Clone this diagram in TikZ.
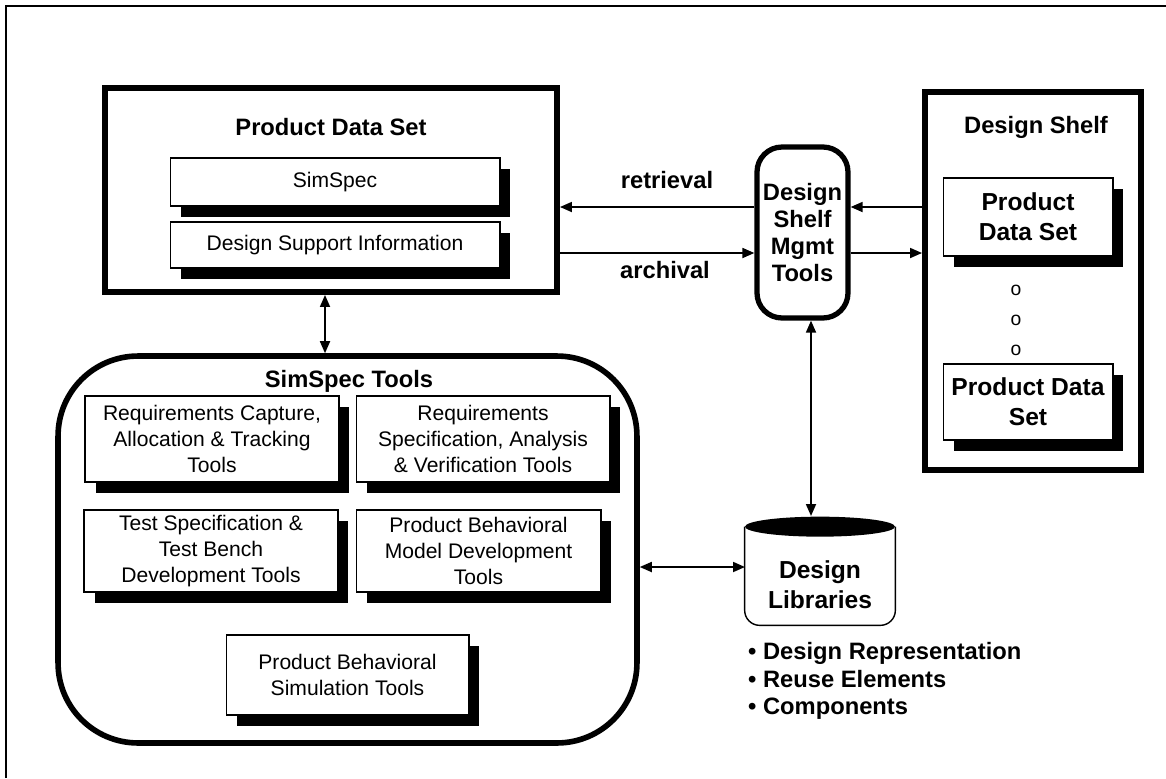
\documentclass[tikz,border=0pt]{standalone}
\usepackage{fontspec}
\setmainfont{Liberation Sans}
\usetikzlibrary{arrows.meta,shadows}

\tikzset{
  thickbox/.style={draw, line width=3.4pt},
  toolbox/.style={draw, line width=0.6pt, fill=white, align=center, inner sep=2pt,
    font=\fontsize{12}{15}\selectfont,
    drop shadow={shadow xshift=0.21cm, shadow yshift=-0.22cm, fill=black, opacity=1}},
  heading/.style={font=\bfseries\fontsize{13.5}{16}\selectfont, align=center},
  tip/.style={line width=1pt, -{Triangle[length=0.24cm,width=0.2cm]}},
  twotip/.style={line width=1pt, {Triangle[length=0.24cm,width=0.2cm]}-{Triangle[length=0.24cm,width=0.2cm]}},
}

\begin{document}
\begin{tikzpicture}[x=0.02cm, y=-0.02cm]
\useasboundingbox (0,0) rectangle (1166,778);
\draw[line width=1.7pt] (6,778) -- (6,6) -- (1166,6);

% product data set
\node[thickbox, minimum width=9.04cm, minimum height=4.08cm] (pds) at (331,190) {};
\node[heading] (pdstitle) at (331,127) {Product Data Set};
\node[toolbox, minimum width=6.6cm, minimum height=0.96cm] (simspec) at (335,182) {SimSpec};
\node[toolbox, minimum width=6.6cm, minimum height=0.92cm] (dsi) at (335,245) {Design Support Information};

% shelf management
\node[draw, line width=3pt, rounded corners=0.5cm, minimum width=1.82cm, minimum height=3.42cm,
  inner sep=0pt, heading, font=\bfseries\fontsize{13.5}{15.3}\selectfont] (mgmt) at (802.5,232.5)
  {Design\\Shelf\\Mgmt\\Tools};

% design shelf
\node[thickbox, minimum width=4.32cm, minimum height=7.56cm] (shelf) at (1033,281) {};
\node[heading] (shelftitle) at (1036,127) {Design Shelf};
\node[toolbox, minimum width=3.4cm, minimum height=1.56cm, font=\bfseries\fontsize{14}{17}\selectfont]
  (pdsa) at (1028,217) {Product\\Data Set};
\foreach \y in {290,320,350}
  \node[font=\fontsize{11}{13}\selectfont] (dot\y) at (1016,\y) {o};
\node[toolbox, minimum width=3.4cm, minimum height=1.52cm, font=\bfseries\fontsize{14}{17}\selectfont]
  (pdsb) at (1028,402) {Product Data\\Set};

% simspec tools
\node[draw, line width=3.2pt, rounded corners=1.6cm, minimum width=11.58cm, minimum height=7.74cm]
  (tools) at (347.5,549.5) {};
\node[heading] (toolstitle) at (349,381) {SimSpec Tools};
\node[toolbox, minimum width=5.08cm, minimum height=1.72cm] (reqcap) at (212,439)
  {Requirements Capture,\\Allocation \& Tracking\\Tools};
\node[toolbox, minimum width=5.08cm, minimum height=1.72cm] (reqspec) at (483,439)
  {Requirements\\Specification, Analysis\\\& Verification Tools};
\node[toolbox, minimum width=5.08cm, minimum height=1.64cm] (testspec) at (211,551)
  {Test Specification \&\\Test Bench\\Development Tools};
\node[toolbox, minimum width=4.9cm, minimum height=1.64cm] (behmodel) at (478.5,551)
  {Product Behavioral\\Model Development\\Tools};
\node[toolbox, minimum width=4.86cm, minimum height=1.6cm] (behsim) at (347.5,675)
  {Product Behavioral\\Simulation Tools};

% design libraries
\node[minimum width=3cm, minimum height=1.96cm] (dlib) at (820,576) {};
\draw[line width=0.8pt, rounded corners=0.3cm] (dlib.north west) -- (dlib.south west)
  -- (dlib.south east) -- (dlib.north east);
\fill (dlib.north) ellipse [x radius=1.5cm, y radius=0.2cm];
\node[heading, font=\bfseries\fontsize{14}{17}\selectfont] (dlibtext) at (820,585) {Design\\Libraries};
\node[heading, align=left, anchor=west, font=\bfseries\fontsize{13.5}{15.6}\selectfont]
  (dlibitems) at (742,681) {• Design Representation\\• Reuse Elements\\• Components};

% connectors
\coordinate (rtv) at (0,207);
\coordinate (arcv) at (0,253);
\coordinate (pdscol) at (325,0);
\coordinate (dlibtop) at (811,516);
\coordinate (dport) at (745,567);
\draw[tip] (mgmt.west |- rtv) -- (pds.east |- rtv);
\draw[tip] (pds.east |- arcv) -- (mgmt.west |- arcv);
\draw[tip] (shelf.west |- rtv) -- (mgmt.east |- rtv);
\draw[tip] (mgmt.east |- arcv) -- (shelf.west |- arcv);
\node[heading] (rtvlabel) at (667,180) {retrieval};
\node[heading] (arclabel) at (665,270) {archival};
\draw[twotip] (pds.south -| pdscol) -- (tools.north -| pdscol);
\draw[twotip] (mgmt.south -| dlibtop) -- (dlibtop);
\draw[twotip] (tools.east |- dport) -- (dport);
\end{tikzpicture}
\end{document}
